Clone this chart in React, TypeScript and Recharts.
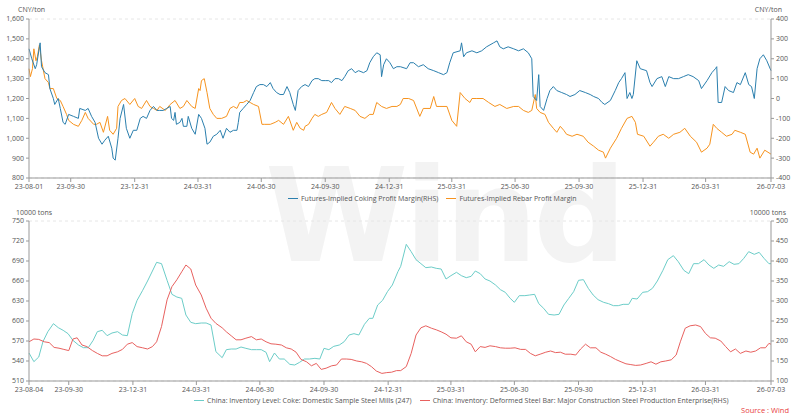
import * as React from "react";
import { LineChart, Line, XAxis, YAxis, CartesianGrid } from "recharts";

// top panel: [day offset from 23-08-01, value]
const cokingMargin: [number, number][] = [
  [0, 250], [4, 200], [9, 150], [11, 170], [15, 260], [16, 280], [18, 160], [23, 130], [28, 120], [30, 50],
  [35, 0], [37, -30], [42, 0], [45, -50], [49, -120], [52, -130], [57, -80], [64, -90], [71, -100], [73, -50],
  [81, -60], [85, -50], [90, -90], [95, -120], [100, -200], [105, -230], [109, -210], [114, -190], [119, -250], [121, -300],
  [124, -310], [128, -200], [131, -100], [136, -30], [140, -150], [145, -200], [150, -160], [155, -160], [160, -100], [164, -90],
  [169, -100], [174, -60], [179, -40], [184, -60], [188, -60], [193, -60], [198, -50], [203, -40], [205, -100], [208, -110],
  [210, -70], [212, -130], [217, -120], [220, -100], [222, -140], [227, -140], [229, -90], [234, -150], [239, -180], [244, -80],
  [248, -100], [253, -150], [256, -230], [260, -220], [265, -190], [270, -180], [275, -160], [279, -200], [284, -150], [289, -170],
  [294, -160], [299, -160], [301, -120], [303, -70], [308, -50], [313, -30], [318, -10], [323, 30], [327, 60], [332, 70],
  [337, 70], [342, 60], [347, 80], [351, 50], [356, 30], [361, 20], [366, 20], [371, 60], [375, 30], [380, -30],
  [383, -60], [387, 40], [392, 60], [397, 70], [402, 60], [407, 90], [411, 100], [416, 100], [421, 90], [426, 90],
  [431, 90], [435, 80], [440, 100], [445, 100], [450, 90], [454, 110], [459, 140], [464, 150], [469, 130], [474, 140],
  [481, 130], [486, 140], [490, 180], [495, 210], [500, 230], [505, 220], [507, 110], [510, 170], [514, 200], [519, 180],
  [524, 150], [529, 160], [534, 160], [543, 150], [548, 180], [553, 180], [560, 160], [567, 170], [574, 150], [582, 140],
  [589, 130], [596, 120], [601, 130], [605, 180], [610, 230], [620, 240], [622, 280], [625, 210], [629, 230], [637, 240],
  [644, 230], [651, 240], [658, 260], [668, 280], [673, 290], [677, 260], [682, 250], [689, 260], [697, 250], [704, 240],
  [711, 250], [718, 230], [723, 200], [725, 10], [730, -10], [733, 120], [735, -40], [740, -60], [745, 0], [749, 40],
  [754, 60], [759, 40], [766, 30], [773, 20], [778, 10], [785, 20], [792, 40], [800, 30], [807, 20], [812, 10],
  [819, 0], [824, -20], [828, -30], [836, -10], [843, 40], [848, 80], [852, 100], [857, 130], [860, 0], [864, 30],
  [867, 0], [869, 20], [874, 190], [879, 150], [888, 140], [893, 80], [896, 60], [903, 100], [910, 110], [915, 60],
  [920, 110], [927, 100], [934, 100], [941, 110], [948, 120], [955, 110], [963, 90], [967, 50], [975, 90], [982, 130],
  [987, 150], [989, 160], [991, -20], [996, -20], [1001, 60], [1006, 40], [1013, 30], [1018, 80], [1023, 70], [1030, 130],
  [1035, 70], [1039, 60], [1043, 0], [1047, 150], [1051, 200], [1056, 220], [1061, 190], [1067, 140],
];

const rebarMargin: [number, number][] = [
  [0, 1350], [2, 1310], [5, 1350], [7, 1450], [10, 1390], [12, 1410], [15, 1470], [18, 1390], [23, 1300], [28, 1280],
  [30, 1250], [35, 1250], [40, 1200], [45, 1190], [49, 1160], [54, 1120], [57, 1090], [64, 1070], [71, 1060], [76, 1090],
  [81, 1130], [85, 1100], [93, 1070], [97, 1070], [102, 1080], [107, 1030], [113, 1110], [116, 1040], [121, 1020], [126, 1050],
  [128, 1160], [133, 1190], [138, 1200], [145, 1170], [152, 1200], [157, 1160], [162, 1150], [169, 1190], [174, 1160], [179, 1150],
  [184, 1140], [188, 1160], [196, 1140], [203, 1170], [210, 1190], [217, 1150], [222, 1160], [227, 1190], [234, 1160], [239, 1150],
  [244, 1250], [246, 1240], [248, 1290], [252, 1300], [256, 1230], [260, 1150], [265, 1120], [270, 1100], [277, 1100], [284, 1110],
  [289, 1150], [294, 1160], [299, 1150], [303, 1180], [308, 1180], [313, 1190], [318, 1180], [323, 1170], [330, 1160], [335, 1070],
  [339, 1070], [347, 1070], [354, 1080], [359, 1090], [366, 1070], [373, 1110], [380, 1040], [385, 1080], [390, 1050], [395, 1040],
  [397, 1060], [402, 1070], [407, 1100], [411, 1120], [416, 1110], [421, 1120], [428, 1130], [435, 1180], [440, 1150], [447, 1120],
  [454, 1160], [462, 1150], [469, 1140], [476, 1110], [483, 1100], [490, 1120], [495, 1120], [500, 1180], [507, 1160], [514, 1150],
  [522, 1160], [529, 1160], [534, 1170], [538, 1200], [546, 1200], [553, 1190], [562, 1110], [567, 1150], [577, 1150], [582, 1210],
  [586, 1160], [591, 1160], [601, 1160], [608, 1090], [615, 1060], [620, 1230], [627, 1200], [634, 1180], [637, 1200], [644, 1200],
  [653, 1200], [661, 1180], [670, 1160], [677, 1170], [687, 1150], [697, 1160], [704, 1160], [711, 1140], [718, 1130], [723, 1140],
  [728, 1220], [730, 1150], [735, 1130], [742, 1120], [747, 1080], [754, 1050], [759, 1030], [764, 1060], [769, 1040], [773, 1020],
  [781, 1010], [788, 1020], [797, 1010], [804, 980], [812, 960], [819, 940], [826, 930], [829, 900], [836, 950], [845, 1000],
  [852, 1050], [860, 1100], [867, 1110], [872, 1080], [875, 1020], [884, 1010], [893, 960], [898, 980], [905, 1010], [912, 1020],
  [920, 1000], [927, 1020], [936, 1030], [943, 1050], [951, 1010], [960, 980], [967, 930], [975, 950], [979, 970], [984, 1070],
  [989, 1050], [996, 1030], [1003, 1010], [1011, 1020], [1015, 1040], [1023, 1030], [1030, 1020], [1037, 930], [1042, 920], [1047, 950],
  [1051, 900], [1058, 940], [1067, 920],
];

// bottom panel: [day offset from 23-08-04, value]
const cokeInventory: [number, number][] = [
  [0, 552], [7, 539], [14, 546], [20, 569], [27, 584], [35, 596], [42, 590], [49, 586], [56, 581], [63, 571],
  [71, 564], [78, 560], [85, 560], [92, 571], [98, 584], [105, 586], [112, 578], [119, 582], [127, 584], [134, 579],
  [141, 578], [148, 611], [155, 631], [163, 646], [170, 660], [177, 675], [183, 688], [190, 686], [198, 661], [205, 640],
  [212, 636], [219, 634], [225, 609], [232, 598], [239, 596], [247, 597], [254, 597], [261, 594], [268, 554], [277, 545],
  [283, 557], [290, 558], [297, 558], [304, 561], [311, 559], [319, 557], [326, 557], [333, 557], [340, 553], [345, 539],
  [352, 552], [359, 543], [366, 543], [374, 535], [381, 534], [388, 538], [395, 543], [402, 543], [410, 544], [417, 543],
  [423, 559], [430, 557], [437, 562], [445, 564], [452, 569], [459, 579], [466, 581], [473, 579], [481, 595], [488, 604],
  [493, 604], [500, 624], [507, 631], [514, 644], [521, 654], [529, 674], [533, 682], [541, 715], [548, 704], [555, 692],
  [562, 686], [569, 680], [577, 681], [584, 679], [591, 678], [598, 663], [605, 668], [613, 673], [620, 668], [627, 665],
  [634, 667], [640, 675], [647, 671], [654, 663], [661, 660], [669, 654], [676, 647], [683, 643], [690, 634], [696, 628],
  [703, 638], [711, 638], [718, 639], [725, 640], [731, 626], [738, 619], [745, 610], [753, 609], [760, 610], [767, 624],
  [774, 634], [781, 644], [788, 661], [795, 662], [802, 649], [809, 639], [816, 632], [824, 628], [831, 626], [838, 623],
  [845, 623], [852, 625], [860, 625], [865, 634], [872, 633], [880, 643], [887, 644], [894, 649], [901, 660], [909, 676],
  [916, 692], [924, 698], [931, 689], [939, 676], [946, 671], [953, 686], [960, 686], [968, 692], [975, 684], [982, 679],
  [989, 684], [996, 682], [1004, 689], [1011, 685], [1018, 686], [1025, 694], [1032, 704], [1040, 700], [1047, 703], [1054, 694],
  [1061, 686], [1064, 686],
];

const rebarInventory: [number, number][] = [
  [0, 198], [7, 205], [14, 204], [22, 198], [29, 196], [36, 184], [43, 182], [50, 179], [57, 176], [63, 205],
  [69, 208], [76, 190], [83, 186], [91, 176], [98, 169], [105, 163], [112, 163], [119, 169], [127, 173], [134, 179],
  [141, 192], [148, 196], [155, 186], [163, 183], [170, 180], [177, 186], [183, 198], [190, 236], [198, 303], [205, 336],
  [212, 353], [219, 373], [225, 390], [232, 380], [239, 340], [247, 315], [254, 282], [261, 257], [268, 244], [277, 233],
  [283, 223], [290, 213], [297, 203], [304, 203], [311, 207], [319, 211], [326, 203], [333, 205], [340, 198], [347, 193],
  [354, 192], [362, 190], [369, 183], [376, 180], [383, 172], [390, 154], [398, 148], [405, 138], [412, 144], [419, 129],
  [426, 132], [434, 138], [441, 140], [448, 155], [455, 155], [462, 154], [470, 150], [477, 148], [484, 144], [491, 136],
  [498, 125], [506, 119], [513, 121], [520, 122], [527, 126], [533, 126], [541, 136], [548, 169], [555, 215], [562, 233],
  [569, 238], [577, 232], [584, 228], [591, 223], [598, 217], [605, 208], [613, 207], [620, 213], [627, 198], [634, 192],
  [640, 173], [647, 186], [654, 184], [661, 188], [669, 186], [676, 183], [683, 182], [690, 182], [697, 183], [705, 179],
  [712, 179], [719, 169], [726, 163], [733, 167], [741, 172], [748, 175], [755, 171], [762, 172], [769, 167], [777, 167],
  [784, 165], [791, 180], [798, 192], [805, 183], [813, 183], [820, 172], [827, 167], [834, 161], [841, 154], [849, 148],
  [856, 143], [863, 141], [870, 139], [877, 140], [885, 144], [892, 148], [899, 142], [906, 148], [913, 150], [921, 153],
  [928, 165], [934, 198], [941, 232], [948, 238], [956, 240], [963, 236], [970, 219], [977, 208], [984, 207], [992, 200],
  [999, 186], [1006, 173], [1013, 180], [1020, 169], [1028, 175], [1035, 172], [1042, 175], [1049, 183], [1056, 183], [1061, 194],
  [1064, 192],
];

const topTickDates = ["2023-08-01", "2023-09-30", "2023-12-31", "2024-03-31", "2024-06-30", "2024-09-30", "2024-12-31", "2025-03-31", "2025-06-30", "2025-09-30", "2025-12-31", "2026-03-31", "2026-07-03"];
const bottomTickDates = ["2023-08-04", ...topTickDates.slice(1)];
const topLeftTicks = [800, 900, 1000, 1100, 1200, 1300, 1400, 1500, 1600];
const topRightTicks = [-400, -300, -200, -100, 0, 100, 200, 300, 400];
const bottomLeftTicks = [510, 540, 570, 600, 630, 660, 690, 720, 750];
const bottomRightTicks = [100, 150, 200, 250, 300, 350, 400, 450, 500];

const DAY = 86400000;
const dayOf = (base: string, d: string) => Math.round((Date.parse(d) - Date.parse(base)) / DAY);
const label = new Map<string, string>();
const fmtDate = (d: string) => d.slice(2);

const FONT = "'Open Sans', 'Noto Sans', sans-serif";
const tick = { fontSize: 7, fill: "#555", fontFamily: FONT };
const axisLine = { stroke: "#999" };

function merge(a: [number, number][], b: [number, number][], ka: string, kb: string) {
  const m = new Map<number, any>();
  a.forEach(([d, v]) => m.set(d, { ...(m.get(d) || { d }), [ka]: v }));
  b.forEach(([d, v]) => m.set(d, { ...(m.get(d) || { d }), [kb]: v }));
  return [...m.values()].sort((x, y) => x.d - y.d);
}

const topData = merge(cokingMargin, rebarMargin, "coking", "rebar");
const bottomData = merge(cokeInventory, rebarInventory, "coke", "rebar");

function Panel(props: {
  data: any[]; base: string; ticks: string[]; end: number; leftTicks: number[]; rightTicks: number[];
  leftKey: string; rightKey: string; leftColor: string; rightColor: string; height: number; top: number;
}) {
  const xt = props.ticks.map((t) => dayOf(props.base, t));
  const names = new Map(xt.map((v, i) => [v, fmtDate(props.ticks[i])]));
  const lf = props.leftTicks[0] >= 800 ? (v: number) => v.toLocaleString("en-US") : (v: number) => String(v);
  return (
    <LineChart width={800} height={props.height} data={props.data} margin={{ top: props.top, right: 0, left: 0, bottom: 0 }}>
      <CartesianGrid vertical={false} stroke="#e6e6e6" strokeDasharray="3 3" />
      <XAxis dataKey="d" type="number" domain={[0, props.end]} ticks={xt} interval={0} height={27}
        tickFormatter={(v) => names.get(v) || ""} tick={tick} axisLine={axisLine} tickLine={axisLine} tickSize={4} />
      <YAxis yAxisId="l" orientation="left" width={29} domain={[props.leftTicks[0], props.leftTicks[8]]} ticks={props.leftTicks}
        interval={0} tickFormatter={lf} tick={tick} axisLine={axisLine} tickLine={axisLine} tickSize={3} />
      <YAxis yAxisId="r" orientation="right" width={29} domain={[props.rightTicks[0], props.rightTicks[8]]} ticks={props.rightTicks}
        interval={0} tick={tick} axisLine={axisLine} tickLine={axisLine} tickSize={3} />
      <Line yAxisId="l" dataKey={props.leftKey} stroke={props.leftColor} strokeWidth={1} dot={false} connectNulls isAnimationActive={false} type="linear" />
      <Line yAxisId="r" dataKey={props.rightKey} stroke={props.rightColor} strokeWidth={1} dot={false} connectNulls isAnimationActive={false} type="linear" />
    </LineChart>
  );
}

const BLUE = "#2b7fae";
const ORANGE = "#f7931e";
const CYAN = "#6ccdc8";
const RED = "#e8615f";

const txt: React.CSSProperties = { position: "absolute", fontSize: 7, color: "#555", fontFamily: FONT, whiteSpace: "nowrap" };

function Key({ color, text }: { color: string; text: string }) {
  return (
    <span style={{ display: "inline-flex", alignItems: "center", marginRight: 8 }}>
      <span style={{ width: 10, height: 1.5, background: color, marginRight: 3 }} />
      {text}
    </span>
  );
}

export default function App() {
  return (
    <div style={{ position: "absolute", left: 0, top: 0, width: 800, height: 420, background: "#fff", overflow: "hidden" }}>
      <div style={{ position: "absolute", left: 265, top: 140, fontSize: 130, fontWeight: 700, color: "#f3f3f3", fontFamily: "'DejaVu Sans', sans-serif", letterSpacing: -4 }}>Wind</div>
      <div style={{ position: "absolute", left: 0, top: 0 }}>
        <Panel data={topData} base="2023-08-01" ticks={topTickDates} end={1067} leftTicks={topLeftTicks} rightTicks={topRightTicks}
          leftKey="rebar" rightKey="coking" leftColor={ORANGE} rightColor={BLUE} height={205} top={19} />
      </div>
      <div style={{ position: "absolute", left: 0, top: 205 }}>
        <Panel data={bottomData} base="2023-08-04" ticks={bottomTickDates} end={1064} leftTicks={bottomLeftTicks} rightTicks={bottomRightTicks}
          leftKey="coke" rightKey="rebar" leftColor={CYAN} rightColor={RED} height={203} top={16} />
      </div>
      <div style={{ ...txt, left: 18, top: 5 }}>CNY/ton</div>
      <div style={{ ...txt, right: 18, top: 5 }}>CNY/ton</div>
      <div style={{ ...txt, left: 16, top: 208 }}>10000 tons</div>
      <div style={{ ...txt, right: 14, top: 208 }}>10000 tons</div>
      <div style={{ ...txt, left: 288, top: 192 }}>
        <Key color={BLUE} text="Futures-Implied Coking Profit Margin(RHS)" />
        <Key color={ORANGE} text="Futures-Implied Rebar Profit Margin" />
      </div>
      <div style={{ ...txt, left: 194, top: 394 }}>
        <Key color={CYAN} text="China: Inventory Level: Coke: Domestic Sample Steel Mills (247)" />
        <Key color={RED} text="China: Inventory: Deformed Steel Bar: Major Construction Steel Production Enterprise(RHS)" />
      </div>
      <div style={{ ...txt, right: 11, top: 405, color: "#e8403e", fontSize: 7.5 }}>Source : Wind</div>
    </div>
  );
}
